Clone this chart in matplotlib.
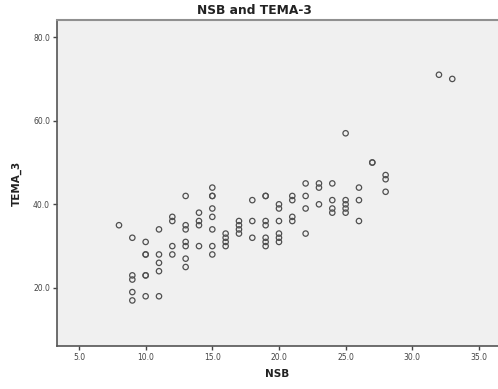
import matplotlib
matplotlib.use("Agg")
import matplotlib.pyplot as plt
from matplotlib.ticker import FormatStrFormatter

title = "NSB and TEMA-3"
x_label = "NSB"
y_label = "TEMA_3"

nsb = [8,
       9, 9, 9, 9, 9,
       10, 10, 10, 10, 10, 10,
       11, 11, 11, 11, 11,
       12, 12, 12, 12,
       13, 13, 13, 13, 13, 13, 13,
       14, 14, 14, 14,
       15, 15, 15, 15, 15, 15, 15, 15,
       16, 16, 16, 16,
       17, 17, 17, 17,
       18, 18, 18,
       19, 19, 19, 19, 19, 19, 19,
       20, 20, 20, 20, 20, 20,
       21, 21, 21, 21,
       22, 22, 22, 22,
       23, 23, 23,
       24, 24, 24, 24,
       25, 25, 25, 25, 25,
       26, 26, 26,
       27, 27,
       28, 28, 28,
       32, 33]
tema3 = [35,
         32, 23, 22, 19, 17,
         31, 28, 28, 23, 23, 18,
         34, 28, 26, 24, 18,
         37, 36, 30, 28,
         42, 35, 34, 31, 30, 27, 25,
         38, 36, 35, 30,
         44, 42, 42, 39, 37, 34, 30, 28,
         33, 32, 31, 30,
         36, 35, 34, 33,
         41, 36, 32,
         42, 42, 36, 35, 32, 31, 30,
         40, 39, 36, 33, 32, 31,
         42, 41, 37, 36,
         45, 42, 39, 33,
         45, 44, 40,
         45, 41, 39, 38,
         57, 41, 40, 39, 38,
         44, 41, 36,
         50, 50,
         47, 46, 43,
         71, 70]

x_ticks = [5, 10, 15, 20, 25, 30, 35]
y_ticks = [20, 40, 60, 80]

fig = plt.figure(figsize=(4.98, 3.89), dpi=100)
ax = fig.add_axes([57/498, 43/389, 441/498, 326/389])
ax.set_facecolor("#f0f0f0")

ax.scatter(nsb, tema3, s=15, facecolors="none", edgecolors="#505050", linewidths=0.9, zorder=3)

ax.set_xlim(3.35, 36.43)
ax.set_ylim(6.1, 84.1)
ax.set_xticks(x_ticks)
ax.set_yticks(y_ticks)
ax.xaxis.set_major_formatter(FormatStrFormatter("%.1f"))
ax.yaxis.set_major_formatter(FormatStrFormatter("%.1f"))
ax.tick_params(axis="both", labelsize=5.5, colors="#444444", length=3, width=1, direction="out", pad=2)

for side in ["left", "bottom"]:
    ax.spines[side].set_color("#555555")
    ax.spines[side].set_linewidth(1.2)
ax.spines["top"].set_color("#909090")
ax.spines["top"].set_linewidth(1.5)
ax.spines["right"].set_visible(False)

ax.set_xlabel(x_label, fontsize=7.5, fontweight="bold", color="#222222", labelpad=5)
ax.set_ylabel(y_label, fontsize=7.5, fontweight="bold", color="#222222", labelpad=8)
fig.text(254/498, 1 - 10/389, title, ha="center", va="center", fontsize=8.8, fontweight="bold", color="#222222")

fig.savefig("out.png", dpi=100, facecolor="white")
